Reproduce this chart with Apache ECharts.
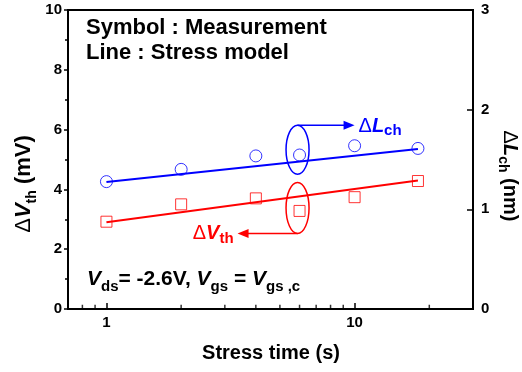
<!DOCTYPE html>
<html>
<head>
<meta charset="utf-8">
<script src="https://cdn.jsdelivr.net/npm/echarts@6/dist/echarts.min.js"></script>
<style>
html,body{margin:0;padding:0;background:#fff;}
#c{width:522px;height:372px;}
</style>
</head>
<body>
<div id="c"></div>
<script>
// ---- data ----
const stressTimes = [1, 2, 4, 6, 10, 18];          // s
const dVthMeas = [2.92, 3.50, 3.70, 3.28, 3.74, 4.28]; // mV
const dLchMeas = [1.278, 1.401, 1.536, 1.545, 1.638, 1.611]; // nm
const modelTimes = [1, 18];
const dVthModel = [2.90, 4.30];
const dLchModel = [1.275, 1.605];
const xTickLabels = ['1', '10'];
const xMinorTicks = [0.8, 0.9, 2, 3, 4, 5, 6, 7, 8, 9, 20];
// annotation anchors: [x, value on left axis]
const anchorLch = [6, 5.33];
const anchorVth = [6, 3.38];

const FF = '"Liberation Sans", Arial, sans-serif';
const chart = echarts.init(document.getElementById('c'), null, {renderer: 'canvas'});

const pair = (xs, ys) => xs.map((x, i) => [x, ys[i]]);

chart.setOption({
  animation: false,
  backgroundColor: '#fff',
  grid: {left: 68, right: 49, top: 10, bottom: 63, show: true, borderColor: '#000', borderWidth: 2, backgroundColor: 'transparent'},
  xAxis: {
    type: 'log', logBase: 10, min: 0.7, max: 30,
    axisLine: {lineStyle: {color: '#000', width: 2}},
    axisTick: {inside: true, length: 6, lineStyle: {color: '#000', width: 1.5}},
    axisLabel: {
      color: '#000', fontSize: 15, fontWeight: 'bold', fontFamily: FF, margin: 6,
      showMinLabel: false, showMaxLabel: false,
      formatter: v => {
        if (Math.abs(v - 1) < 1e-6) return xTickLabels[0];
        if (Math.abs(v - 10) < 1e-6) return xTickLabels[1];
        return '';
      }
    },
    splitLine: {show: false}
  },
  yAxis: [{
    type: 'value', min: 0, max: 10, interval: 2, position: 'left',
    axisLine: {show: true, lineStyle: {color: '#000', width: 2}},
    axisTick: {show: true, inside: false, length: 4, lineStyle: {color: '#000', width: 1.5}},
    minorTick: {show: true, splitNumber: 2, length: 3, lineStyle: {color: '#000', width: 1.5}},
    axisLabel: {color: '#000', fontSize: 15, fontWeight: 'bold', fontFamily: FF, margin: 6},
    splitLine: {show: false}
  }, {
    type: 'value', min: 0, max: 3, interval: 1, position: 'right',
    axisLine: {show: true, lineStyle: {color: '#000', width: 2}},
    axisTick: {show: true, inside: true, length: 6, lineStyle: {color: '#000', width: 1.5}},
    axisLabel: {color: '#000', fontSize: 15, fontWeight: 'bold', fontFamily: FF, margin: 8},
    splitLine: {show: false}
  }],
  series: [{
    type: 'line', data: pair(modelTimes, dLchModel), yAxisIndex: 1,
    showSymbol: false, lineStyle: {color: '#0000ff', width: 2}, silent: true
  }, {
    type: 'line', data: pair(modelTimes, dVthModel), yAxisIndex: 0,
    showSymbol: false, lineStyle: {color: '#ff0000', width: 2}, silent: true
  }, {
    type: 'scatter', data: pair(stressTimes, dLchMeas), yAxisIndex: 1,
    symbol: 'circle', symbolSize: 12,
    itemStyle: {color: 'rgba(0,0,0,0)', borderColor: '#0000ff', borderWidth: 1}
  }, {
    type: 'scatter', data: pair(stressTimes, dVthMeas), yAxisIndex: 0,
    symbol: 'rect', symbolSize: 11,
    itemStyle: {color: 'rgba(0,0,0,0)', borderColor: '#ff0000', borderWidth: 1}
  }, {
    type: 'scatter', data: xMinorTicks.map(x => [x, 0]), yAxisIndex: 0,
    symbol: 'rect', symbolSize: [1.5, 3.5], symbolOffset: [0, -2.5],
    itemStyle: {color: '#000'}, silent: true, clip: false
  }]
});

// ---- annotations ----
const pL = chart.convertToPixel({xAxisIndex: 0, yAxisIndex: 0}, anchorLch);
const pV = chart.convertToPixel({xAxisIndex: 0, yAxisIndex: 0}, anchorVth);
const cxL = pL[0] - 2, cyL = pL[1];
const cxV = pV[0] - 2, cyV = pV[1];
const rx = 11.5, ry = 24.5;

function rt(size, subSize, lh, color) {
  return {
    d: {fontFamily: FF, fontSize: size, fontWeight: 'normal', fill: color, lineHeight: lh, verticalAlign: 'middle'},
    i: {fontFamily: FF, fontSize: size, fontWeight: 'bold', fontStyle: 'italic', fill: color, lineHeight: lh, verticalAlign: 'middle'},
    b: {fontFamily: FF, fontSize: size, fontWeight: 'bold', fill: color, lineHeight: lh, verticalAlign: 'middle'},
    s: {fontFamily: FF, fontSize: subSize, fontWeight: 'bold', fill: color, lineHeight: subSize, verticalAlign: 'bottom'}
  };
}

chart.setOption({
  graphic: [
    {type: 'text', x: 86, y: 28, style: {text: 'Symbol : Measurement', fontFamily: FF, fontWeight: 'bold', fontSize: 22, fill: '#000', align: 'left', verticalAlign: 'middle'}},
    {type: 'text', x: 86, y: 53, style: {text: 'Line : Stress model', fontFamily: FF, fontWeight: 'bold', fontSize: 22, fill: '#000', align: 'left', verticalAlign: 'middle'}},
    {type: 'text', x: 87, y: 279, style: {
      text: '{i|V}{s|ds}{b|= -2.6V, }{i|V}{s|gs}{b| = }{i|V}{s|gs ,c}',
      align: 'left', verticalAlign: 'middle', rich: rt(21, 15, 30, '#000')}},
    {type: 'text', x: 271, y: 353, style: {
      text: 'Stress time (s)', fontFamily: FF, fontWeight: 'bold', fontSize: 20, fill: '#000',
      align: 'center', verticalAlign: 'middle'}},
    {type: 'text', x: 24, y: 184, rotation: Math.PI / 2, style: {
      text: '{d|Δ}{i|V}{s|th}{b| (mV)}', align: 'center', verticalAlign: 'middle', rich: rt(22, 14, 30, '#000')}},
    {type: 'text', x: 510, y: 176, rotation: -Math.PI / 2, style: {
      text: '{d|Δ}{i|L}{s|ch}{b| (nm)}', align: 'center', verticalAlign: 'middle', rich: rt(20, 14, 28, '#000')}},
    // blue ellipse + arrow + label
    {type: 'ellipse', shape: {cx: cxL, cy: cyL, rx: rx, ry: ry}, style: {fill: 'none', stroke: '#0000ff', lineWidth: 1.5}},
    {type: 'polyline', shape: {points: [[cxL, cyL - ry], [cxL + 47, cyL - ry]]}, style: {stroke: '#0000ff', lineWidth: 1.5}},
    {type: 'polygon', shape: {points: [[cxL + 46, cyL - ry - 4.5], [cxL + 57, cyL - ry], [cxL + 46, cyL - ry + 4.5]]}, style: {fill: '#0000ff'}},
    {type: 'text', x: cxL + 61, y: cyL - ry + 1, style: {
      text: '{d|Δ}{i|L}{s|ch}', align: 'left', verticalAlign: 'middle', rich: rt(20, 15, 24, '#0000ff')}},
    // red ellipse + arrow + label
    {type: 'ellipse', shape: {cx: cxV, cy: cyV, rx: rx, ry: ry + 1}, style: {fill: 'none', stroke: '#ff0000', lineWidth: 1.5}},
    {type: 'polyline', shape: {points: [[cxV, cyV + ry + 1], [cxV - 50, cyV + ry + 1]]}, style: {stroke: '#ff0000', lineWidth: 1.5}},
    {type: 'polygon', shape: {points: [[cxV - 49, cyV + ry + 1 - 4.5], [cxV - 60, cyV + ry + 1], [cxV - 49, cyV + ry + 1 + 4.5]]}, style: {fill: '#ff0000'}},
    {type: 'text', x: cxV - 64, y: cyV + ry + 1, style: {
      text: '{d|Δ}{i|V}{s|th}', align: 'right', verticalAlign: 'middle', rich: rt(20, 15, 26, '#ff0000')}}
  ]
});
</script>
</body>
</html>
